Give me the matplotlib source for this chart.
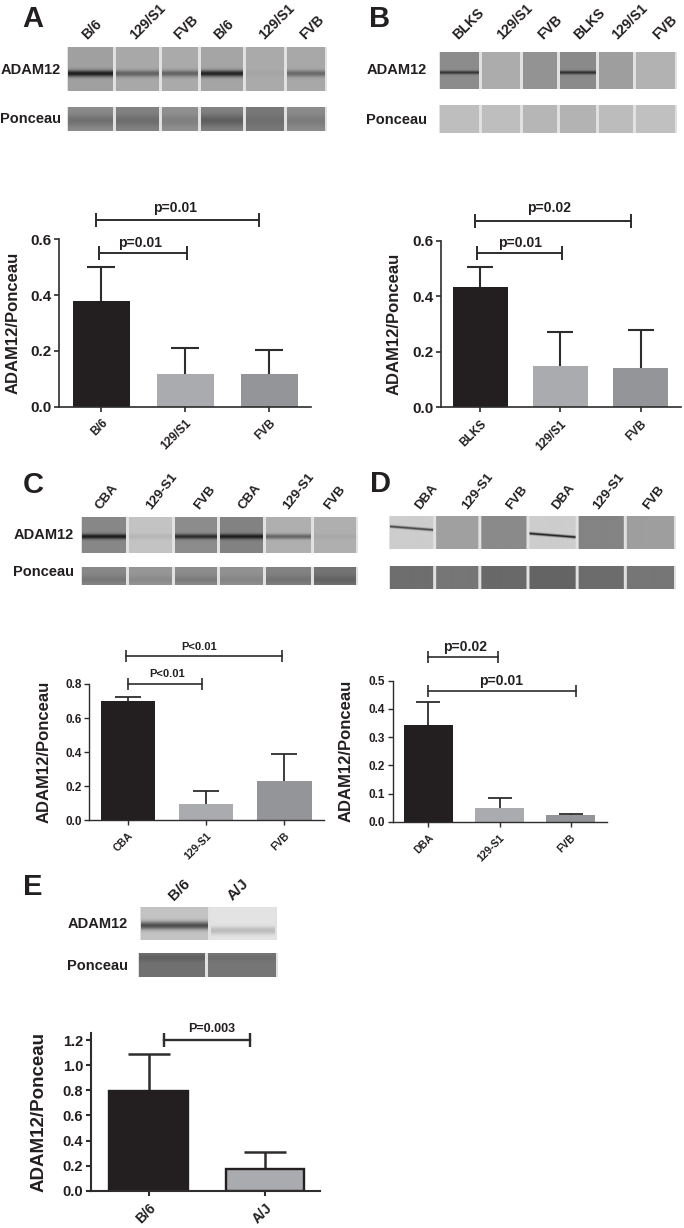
import numpy as np
import matplotlib
matplotlib.use('Agg')
import matplotlib.pyplot as plt

plt.rcParams['font.family'] = ['Liberation Sans', 'DejaVu Sans']
plt.rcParams['font.weight'] = 'bold'

W, H = 684, 1228
DARK, LIGHT, MID = '#231f20', '#a9abae', '#939598'
INK = '#2e2c2d'

# ---- bar chart values ----
a_names = ['B/6', '129/S1', 'FVB']
a_means = [0.38, 0.118, 0.118]
a_tops = [0.50, 0.212, 0.205]

b_names = ['BLKS', '129/S1', 'FVB']
b_means = [0.435, 0.147, 0.143]
b_tops = [0.505, 0.27, 0.28]

c_names = ['CBA', '129-S1', 'FVB']
c_means = [0.703, 0.093, 0.233]
c_tops = [0.725, 0.17, 0.39]

d_names = ['DBA', '129-S1', 'FVB']
d_means = [0.342, 0.05, 0.025]
d_tops = [0.424, 0.084, 0.029]

e_names = ['B/6', 'A/J']
e_means = [0.795, 0.17]
e_tops = [1.09, 0.31]

# ---- blot lanes: pixel edges, grey level, band strength ----
a_edges = [67, 115, 161, 200, 245, 286, 327]
a_grey = [160, 168, 170, 165, 170, 168]
a_band = [1.0, 0.5, 0.5, 0.95, 0.04, 0.45]
a_pon = [140, 130, 145, 130, 120, 140]

b_edges = [439, 481, 522, 559, 598, 635, 677]
b_grey = [140, 172, 148, 138, 158, 178]
b_band = [0.75, 0, 0, 0.8, 0, 0]
b_pon = [190, 190, 182, 180, 188, 192]

c_edges = [81, 128, 174, 219, 265, 313, 358]
c_grey = [135, 195, 140, 130, 175, 175]
c_band = [1.0, 0.08, 0.85, 1.0, 0.5, 0.05]
c_pon = [135, 150, 140, 145, 130, 115]

d_edges = [389, 435, 480, 528, 577, 625, 675]
d_grey = [205, 160, 138, 205, 132, 158]
d_band = [0.75, 0, 0, 0.95, 0, 0]
d_pon = [110, 118, 105, 100, 108, 118]

e_edges = [140, 210, 277]
e_grey = [195, 228]
e_band = [0.7, 0.2]
e_pon = [112, 118]

fig = plt.figure(figsize=(W / 100, H / 100), dpi=100, facecolor='white')


def box_axes(x0, x1, top, bottom):
    return fig.add_axes([x0 / W, 1 - bottom / H, (x1 - x0) / W, (bottom - top) / H])


def blot(edges, grey, band, top, bottom, band_y=None, thick=2.5, tilt=0.0):
    # paint one membrane strip lane by lane
    ww, hh = edges[-1] - edges[0], int(bottom - top)
    img = np.full((hh, ww), 225.0)
    yy = np.arange(hh)[:, None]
    for i, g in enumerate(grey):
        l, r = edges[i] - edges[0] + 1, edges[i + 1] - edges[0] - 2
        xx = np.arange(l, r)[None, :]
        lane = np.full((hh, r - l), float(g))
        if band_y is not None and band[i] > 0:
            by = band_y[i] - top + tilt * (xx - l)
            s = band[i] * np.exp(-((yy - by) / thick) ** 2)
            lane = lane * (1 - s) + 30 * s
        img[:, l:r] = lane
    ax = box_axes(edges[0], edges[-1], top, bottom)
    ax.imshow(img, cmap='gray', vmin=0, vmax=255, aspect='auto', interpolation='bilinear')
    ax.axis('off')


def bars(box, xlim, ylim, yticks, names, means, tops, spacing_w, colors, tick_fs, name_fs,
         label_x, label_fs, cap, brackets, lw=1.2, edge=None, fmt='%.1f'):
    ax = box_axes(*box)
    x = np.arange(len(names))
    ax.bar(x, means, width=spacing_w, color=colors, edgecolor=edge or 'none',
           linewidth=1.7 if edge else 0, zorder=2)
    err = np.array(tops) - np.array(means)
    eb = ax.errorbar(x, means, yerr=[np.zeros(len(x)), err], fmt='none', ecolor=INK,
                     elinewidth=lw + 0.3, capsize=cap, capthick=lw + 0.3, zorder=1)
    eb[1][0].set_visible(False)  # no lower cap
    ax.set_xlim(*xlim)
    ax.set_ylim(*ylim)
    ax.set_yticks(yticks)
    ax.set_yticklabels([fmt % t for t in yticks], fontsize=tick_fs, color='#231f20')
    ax.set_xticks(x)
    ax.set_xticklabels(names, fontsize=name_fs, rotation=45, ha='right',
                       rotation_mode='anchor', color='#231f20')
    ax.tick_params(axis='both', length=3.5, width=lw, color=INK, pad=2)
    ax.tick_params(axis='x', pad=4)
    ax.spines['top'].set_visible(False)
    ax.spines['right'].set_visible(False)
    ax.spines['left'].set_linewidth(lw)
    ax.spines['bottom'].set_linewidth(lw)
    ax.spines['left'].set_color(INK)
    ax.spines['bottom'].set_color(INK)
    ax.set_ylabel('ADAM12/Ponceau', fontsize=label_fs, color='#231f20', fontweight='bold')
    ax.yaxis.set_label_coords((label_x - box[0]) / (box[1] - box[0]), 0.5)
    for x0, x1, y, txt, tx, ty, fs, ms in brackets:
        ax.plot([x0, x1], [y, y], color=INK, lw=lw + 0.2, marker='|', ms=ms,
                mew=lw + 0.2, clip_on=False, zorder=3)
        ax.text(tx, ty, txt, fontsize=fs, ha='center', va='center', clip_on=False,
                color='#231f20')
    return ax


def lab(x, y, s, fs=10.5, ha='right', rot=0, va='center'):
    fig.text(x / W, 1 - y / H, s, fontsize=fs, ha=ha, va=va, rotation=rot,
             rotation_mode='anchor', color='#231f20')


# ---- panel letters ----
for x, y, s in [(33, 19, 'A'), (380, 19, 'B'), (33, 485, 'C'), (380, 484, 'D'), (33, 887, 'E')]:
    lab(x, y, s, fs=21, ha='center')

# ---- panel A ----
blot(a_edges, a_grey, a_band, 47, 91, band_y=[73] * 6, thick=3.2)
blot(a_edges, a_pon, [0.25, 0.2, 0.15, 0.35, 0.1, 0.15], 107, 131, band_y=[120] * 6, thick=6)
lab(61, 70, 'ADAM12')
lab(61, 119, 'Ponceau')
for x, s in zip([89, 137, 181, 221, 266, 307], ['B/6', '129/S1', 'FVB', 'B/6', '129/S1', 'FVB']):
    lab(x, 42, s, fs=10, ha='left', rot=45, va='bottom')
bars((59, 310.7, 239.3, 406.7), (-0.504, 2.493), (0, 0.6), [0, 0.2, 0.4, 0.6],
     a_names, a_means, a_tops, 0.68, [DARK, LIGHT, MID], 11, 8.5, 20.7, 12, 10,
     [(-0.063, 1.877, 0.669, 'p=0.01', 0.877, 0.712, 10, 10),
      (-0.03, 1.02, 0.55, 'p=0.01', 0.46, 0.586, 10, 10)])

# ---- panel B ----
blot(b_edges, b_grey, b_band, 52, 89, band_y=[72] * 6, thick=1.8)
blot(b_edges, b_pon, [0] * 6, 105, 133)
lab(427, 70, 'ADAM12')
lab(427, 120, 'Ponceau')
for x, s in zip([460, 504, 545, 581, 619, 660], ['BLKS', '129/S1', 'FVB', 'BLKS', '129/S1', 'FVB']):
    lab(x, 42, s, fs=10, ha='left', rot=45, va='bottom')
bars((441, 681.3, 240.7, 407.3), (-0.489, 2.509), (0, 0.6), [0, 0.2, 0.4, 0.6],
     b_names, b_means, b_tops, 0.69, [DARK, LIGHT, MID], 11, 8.5, 402, 12, 9.5,
     [(-0.069, 1.881, 0.672, 'p=0.02', 0.858, 0.717, 10, 10),
      (-0.04, 1.024, 0.555, 'p=0.01', 0.497, 0.591, 10, 10)])

# ---- panel C ----
blot(c_edges, c_grey, c_band, 517, 553, band_y=[536] * 6, thick=2.5)
blot(c_edges, c_pon, [0.15, 0.1, 0.15, 0.1, 0.15, 0.2], 567, 585, band_y=[579] * 6, thick=4)
lab(74, 535, 'ADAM12')
lab(74, 572, 'Ponceau')
for x, s in zip([103, 153, 201, 246, 290, 331], ['CBA', '129-S1', 'FVB', 'CBA', '129-S1', 'FVB']):
    lab(x, 512, s, fs=9.5, ha='left', rot=52, va='bottom')
bars((89.3, 324, 684, 820.3), (-0.495, 2.506), (0, 0.8), [0, 0.2, 0.4, 0.6, 0.8],
     c_names, c_means, c_tops, 0.695, [DARK, LIGHT, MID], 8.5, 7.5, 51.7, 12, 9.5,
     [(-0.029, 1.965, 0.964, 'P<0.01', 0.908, 1.019, 8, 9),
      (0.0, 0.95, 0.8, 'P<0.01', 0.499, 0.859, 8, 9)], lw=1.0)

# ---- panel D ----
blot(d_edges, d_grey, d_band, 516, 549, band_y=[526, 0, 0, 533, 0, 0], thick=1.3, tilt=0.08)
blot(d_edges, d_pon, [0] * 6, 566, 589)
for x, s in zip([422, 469, 513, 559, 600, 650], ['DBA', '129-S1', 'FVB', 'DBA', '129-S1', 'FVB']):
    lab(x, 512, s, fs=9.5, ha='left', rot=52, va='bottom')
bars((393, 606.7, 680.7, 822), (-0.499, 2.506), (0, 0.5), [0, 0.1, 0.2, 0.3, 0.4, 0.5],
     d_names, d_means, d_tops, 0.69, [DARK, LIGHT, MID], 8.5, 7.5, 353.7, 12, 8.5,
     [(-0.007, 0.982, 0.583, 'p=0.02', 0.513, 0.619, 10, 9),
      (-0.007, 2.07, 0.464, 'p=0.01', 1.02, 0.5, 10, 9)], lw=1.0)

# ---- panel E ----
blot(e_edges, e_grey, e_band, 907, 940, band_y=[925, 930], thick=4)
blot([138, 207, 278], e_pon, [0.2, 0.1], 953, 977, band_y=[958, 958], thick=3)
lab(128, 924, 'ADAM12', fs=10.5)
lab(128, 966, 'Ponceau', fs=10.5)
lab(176, 903, 'B/6', fs=11, ha='left', rot=45, va='bottom')
lab(235, 903, 'A/J', fs=11, ha='left', rot=45, va='bottom')
bars((91, 320, 1032.7, 1190.7), (-0.496, 1.473), (0, 1.26), [0, 0.2, 0.4, 0.6, 0.8, 1.0, 1.2],
     e_names, e_means, e_tops, 0.677, [DARK, LIGHT], 10.5, 10, 47.3, 13.5, 15,
     [(0.132, 0.871, 1.2, 'P=0.003', 0.542, 1.29, 9, 10)], lw=1.5, edge=DARK)

fig.savefig('out.png', dpi=100)
